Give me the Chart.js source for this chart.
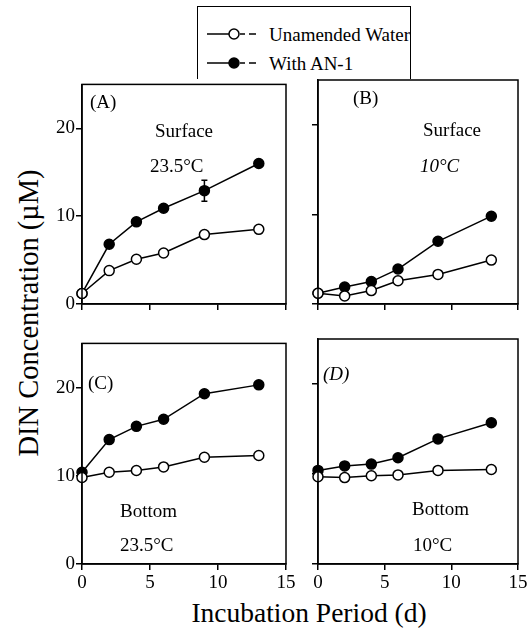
<!DOCTYPE html>
<html>
<head>
<meta charset="utf-8">
<script src="https://cdn.jsdelivr.net/npm/chart.js@4"></script>
<style>
  html, body { margin:0; padding:0; background:#fff; }
  #wrap { position:relative; width:531px; height:635px; overflow:hidden; background:#fff; font-family:"Liberation Serif", "Times New Roman", serif; color:#000; }
  canvas { position:absolute; }
  .t { position:absolute; white-space:nowrap; font-size:19px; line-height:1; transform:translateY(-50%); }
  .it { font-style:italic; }
  #legend { position:absolute; left:197px; top:6px; width:214px; height:73px; border:1.5px solid #000; border-bottom:none; box-sizing:border-box; background:#fff; }
  #ytitle { position:absolute; left:29px; top:313px; transform:translate(-50%,-50%) rotate(-90deg); font-size:28.5px; white-space:nowrap; }
  #xtitle { position:absolute; left:309px; top:613px; transform:translate(-50%,-50%); font-size:27.5px; white-space:nowrap; }
</style>
</head>
<body>
<div id="wrap">
  <div id="ytitle">DIN Concentration (µM)</div>
  <div id="xtitle">Incubation Period (d)</div>
</div>
<script>
// ---- data ----
const days = [0, 2, 4, 6, 9, 13];
const xTicks = [0, 5, 10, 15];
const yTicks = [0, 10, 20];
const seriesNames = ["Unamended Water", "With AN-1"];

const A_open = [1.2, 3.8, 5.1, 5.8, 7.9, 8.5];
const A_an1  = [1.2, 6.8, 9.35, 10.9, 12.9, 16.0];
const A_err  = [0, 0, 0, 0, 1.2, 0];
const B_open = [1.2, 0.9, 1.5, 2.6, 3.3, 4.9];
const B_an1  = [1.2, 1.9, 2.5, 3.9, 7.0, 9.8];
const C_open = [9.8, 10.4, 10.6, 11.0, 12.1, 12.3];
const C_an1  = [10.4, 14.1, 15.6, 16.4, 19.3, 20.3];
const D_open = [9.7, 9.6, 9.8, 9.9, 10.4, 10.5];
const D_an1  = [10.4, 10.9, 11.1, 11.8, 13.9, 15.7];

const panelLabels = ["(A)", "(B)", "(C)", "(D)"];
const panelNotes = [["Surface", "23.5°C"], ["Surface", "10°C"], ["Bottom", "23.5°C"], ["Bottom", "10°C"]];

// ---- layout ----
const wrap = document.getElementById('wrap');
const YW = 50, PT = 8, PR = 16, XH = 40;
const FONT = "'Liberation Serif', 'Times New Roman', serif";

const panels = [
  { L: 82,  T: 80,  R: 286, B: 304, open: A_open, an1: A_an1, err: A_err, ylab: true,  xlab: false },
  { L: 318, T: 80,  R: 518, B: 304, open: B_open, an1: B_an1, err: null,  ylab: false, xlab: false },
  { L: 82,  T: 339, R: 286, B: 564, open: C_open, an1: C_an1, err: null,  ylab: true,  xlab: true },
  { L: 318, T: 339, R: 518, B: 564, open: D_open, an1: D_an1, err: null,  ylab: false, xlab: true }
];

const framePlugin = {
  id: 'frame',
  afterDraw(chart) {
    const a = chart.chartArea, ctx = chart.ctx;
    ctx.save();
    ctx.strokeStyle = '#000'; ctx.lineWidth = 1.5;
    ctx.strokeRect(a.left, a.top, a.right - a.left, a.bottom - a.top);
    ctx.restore();
  }
};

const errPlugin = {
  id: 'errbars',
  afterDatasetsDraw(chart, args, opts) {
    const err = opts.err;
    if (!err) return;
    const ds = chart.data.datasets[1];
    const xs = chart.scales.x, ys = chart.scales.y, ctx = chart.ctx;
    ctx.save();
    ctx.strokeStyle = '#000'; ctx.lineWidth = 1.5;
    err.forEach((e, i) => {
      if (!e) return;
      const x = xs.getPixelForValue(days[i]);
      const y1 = ys.getPixelForValue(ds.data[i].y + e);
      const y2 = ys.getPixelForValue(ds.data[i].y - e);
      ctx.beginPath();
      ctx.moveTo(x, y1); ctx.lineTo(x, y2);
      ctx.moveTo(x - 3, y1); ctx.lineTo(x + 3, y1);
      ctx.moveTo(x - 3, y2); ctx.lineTo(x + 3, y2);
      ctx.stroke();
    });
    ctx.restore();
  }
};

panels.forEach((p, idx) => {
  const cv = document.createElement('canvas');
  const w = p.R - p.L + YW + PR, h = p.B - p.T + PT + XH;
  cv.width = w; cv.height = h;
  cv.style.width = w + 'px'; cv.style.height = h + 'px';
  cv.style.left = (p.L - YW) + 'px'; cv.style.top = (p.T - PT) + 'px';
  wrap.appendChild(cv);

  new Chart(cv, {
    type: 'line',
    data: {
      datasets: [
        { label: seriesNames[0], data: days.map((d, i) => ({ x: d, y: p.open[i] })),
          borderColor: '#000', borderWidth: 1.5, pointRadius: 5, pointBorderWidth: 1.5,
          pointBackgroundColor: '#fff', pointBorderColor: '#000', clip: false, tension: 0 },
        { label: seriesNames[1], data: days.map((d, i) => ({ x: d, y: p.an1[i] })),
          borderColor: '#000', borderWidth: 1.5, pointRadius: 5, pointBorderWidth: 1.5,
          pointBackgroundColor: '#000', pointBorderColor: '#000', clip: false, tension: 0 }
      ]
    },
    options: {
      responsive: false, animation: false, devicePixelRatio: 1,
      layout: { padding: { left: 0, top: PT, right: PR, bottom: 0 } },
      plugins: { legend: { display: false }, tooltip: { enabled: false }, errbars: { err: p.err } },
      scales: {
        x: {
          type: 'linear', min: 0, max: 15,
          afterBuildTicks: s => { s.ticks = xTicks.map(v => ({ value: v })); },
          afterFit: s => { s.height = XH; },
          grid: { drawOnChartArea: false, drawTicks: true, tickLength: 6, color: '#000', lineWidth: 1.5 },
          border: { display: true, color: '#000', width: 1.5 },
          ticks: { display: p.xlab, color: '#000', padding: 2, maxRotation: 0, font: { family: FONT, size: 19 } }
        },
        y: {
          type: 'linear', min: 0, max: 25,
          afterBuildTicks: s => { s.ticks = yTicks.map(v => ({ value: v })); },
          afterFit: s => { s.width = YW; },
          grid: { drawOnChartArea: false, drawTicks: true, tickLength: 6, color: '#000', lineWidth: 1.5 },
          border: { display: true, color: '#000', width: 1.5 },
          ticks: { display: p.ylab, color: '#000', padding: 1, font: { family: FONT, size: 19 } }
        }
      }
    },
    plugins: [framePlugin, errPlugin]
  });
});

// ---- panel annotations ----
const notePos = [
  { lab: [90, 101], n1: [155, 130], n2: [150, 165], italic: false },
  { lab: [353, 97], n1: [423, 129], n2: [420, 165], italic: true },
  { lab: [88, 382], n1: [120, 510], n2: [120, 544], italic: false },
  { lab: [323, 373], n1: [412, 508], n2: [413, 544], italic: false }
];
notePos.forEach((q, i) => {
  const mk = (txt, xy, cls) => {
    const d = document.createElement('div');
    d.className = 't' + (cls ? ' ' + cls : '');
    d.textContent = txt;
    d.style.left = xy[0] + 'px'; d.style.top = xy[1] + 'px';
    wrap.appendChild(d);
  };
  mk(panelLabels[i], q.lab, i === 3 ? 'it' : '');
  mk(panelNotes[i][0], q.n1);
  mk(panelNotes[i][1], q.n2, q.italic ? 'it' : '');
});

// ---- legend ----
const lg = document.createElement('div');
lg.id = 'legend';
wrap.appendChild(lg);
const lc = document.createElement('canvas');
lc.width = 70; lc.height = 73;
lc.style.left = '0px'; lc.style.top = '0px';
lg.appendChild(lc);
const g = lc.getContext('2d');
[[27, '#fff'], [56, '#000']].forEach(([y, fill]) => {
  g.strokeStyle = '#000'; g.lineWidth = 1.5;
  g.beginPath(); g.moveTo(9, y); g.lineTo(31, y); g.stroke();
  g.beginPath(); g.moveTo(42, y); g.lineTo(47, y); g.moveTo(51, y); g.lineTo(58, y); g.stroke();
  g.beginPath(); g.arc(36, y, 5, 0, Math.PI * 2); g.fillStyle = fill; g.fill(); g.stroke();
});
seriesNames.forEach((s, i) => {
  const d = document.createElement('div');
  d.className = 't';
  d.textContent = s;
  d.style.left = '71px'; d.style.top = (i === 0 ? 27 : 56) + 'px';
  lg.appendChild(d);
});
</script>
</body>
</html>
